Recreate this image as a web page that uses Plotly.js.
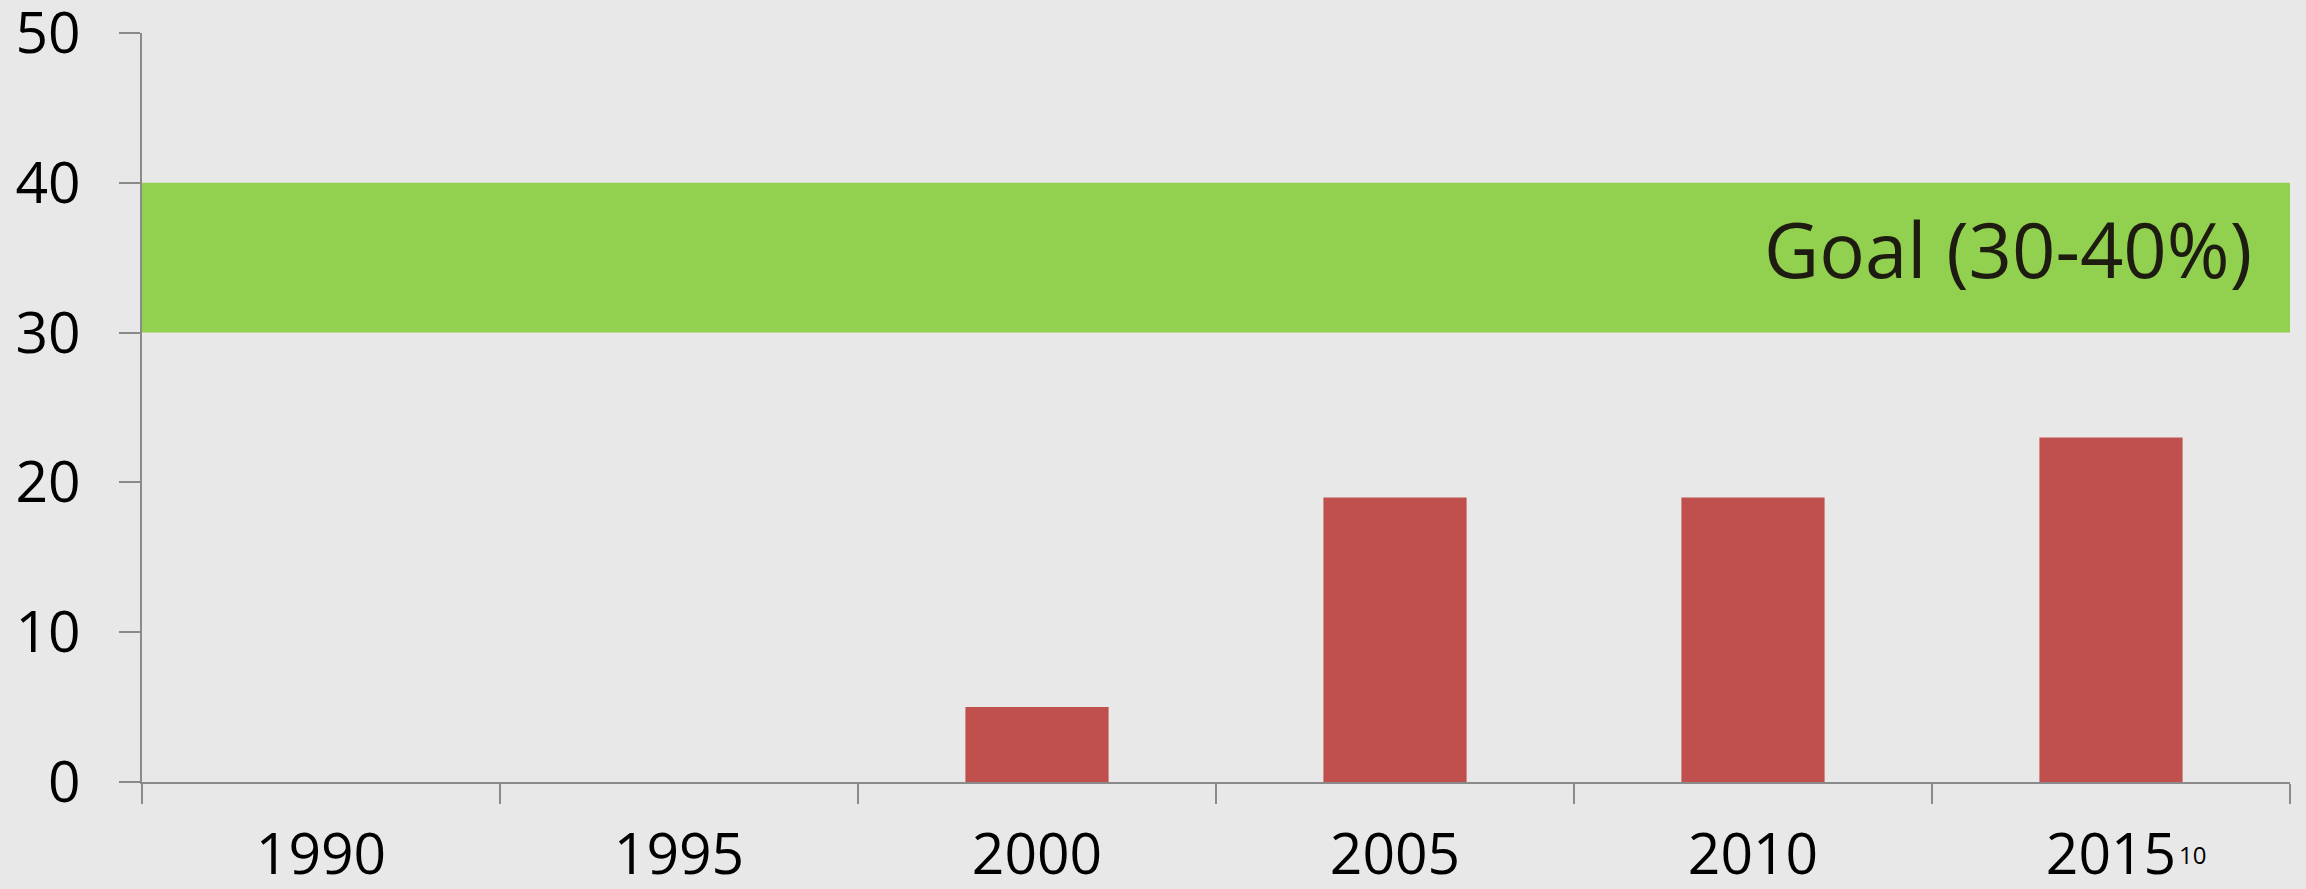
<!DOCTYPE html>
<html>
<head>
<meta charset="utf-8">
<script src="https://cdn.plot.ly/plotly-3.0.1.min.js"></script>
<style>
html,body{margin:0;padding:0;background:#e8e8e8;}
#chart{width:2306px;height:889px;}
</style>
</head>
<body>
<div id="chart"></div>
<script>
const years = ["1990", "1995", "2000", "2005", "2010", "2015"];
const values = [0, 0, 5, 19, 19, 23];
const goalLow = 30;
const goalHigh = 40;
const goalLabel = "Goal (30-40%)";
const footnote = "10";
const yTicks = [0, 10, 20, 30, 40, 50];

const trace = {
  type: "bar",
  x: years,
  y: values,
  marker: {color: "#c0504d"},
  hoverinfo: "skip"
};

const layout = {
  width: 2306,
  height: 889,
  margin: {l: 142, r: 16, t: 33, b: 107},
  paper_bgcolor: "#e8e8e8",
  plot_bgcolor: "#e8e8e8",
  showlegend: false,
  bargap: 0.6,
  font: {family: "Open Sans, sans-serif", color: "#000000"},
  xaxis: {
    type: "category",
    range: [-0.5, years.length - 0.5],
    tickson: "boundaries",
    ticks: "outside",
    ticklen: 20,
    tickwidth: 2,
    tickcolor: "#8a8a8a",
    showline: true,
    linecolor: "#8a8a8a",
    linewidth: 2,
    showgrid: false,
    zeroline: false,
    tickangle: 0,
    tickfont: {size: 57, color: "#000000"},
    ticklabelstandoff: 22,
    ticklabeloverflow: "allow"
  },
  yaxis: {
    range: [0, 50],
    tickvals: yTicks,
    ticktext: yTicks.map(String),
    ticks: "outside",
    ticklen: 21,
    tickwidth: 2,
    tickcolor: "#8a8a8a",
    showline: true,
    linecolor: "#8a8a8a",
    linewidth: 2,
    showgrid: false,
    zeroline: false,
    tickfont: {size: 57, color: "#000000"},
    ticklabelstandoff: 27,
    ticklabeloverflow: "allow"
  },
  shapes: [{
    type: "rect",
    xref: "paper", yref: "y",
    x0: 0, x1: 1, y0: goalLow, y1: goalHigh,
    fillcolor: "#92d050",
    line: {width: 0},
    layer: "below"
  }],
  annotations: [{
    xref: "paper", yref: "y",
    x: 1, y: (goalLow + goalHigh) / 2,
    xanchor: "right", yanchor: "middle",
    xshift: -36, yshift: 9,
    text: goalLabel,
    showarrow: false,
    font: {size: 76, color: "#1e1c11", family: "Open Sans, sans-serif"}
  }, {
    xref: "paper", yref: "paper",
    x: (years.length - 0.5) / years.length, y: 0,
    xanchor: "left", yanchor: "top",
    xshift: 66, yshift: -54,
    text: footnote,
    showarrow: false,
    font: {size: 24, color: "#000000", family: "Open Sans, sans-serif"}
  }]
};

Plotly.newPlot("chart", [trace], layout, {displayModeBar: false, staticPlot: true});
</script>
</body>
</html>
